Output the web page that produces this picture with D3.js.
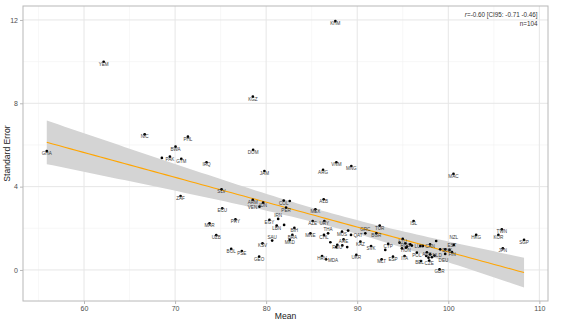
<!DOCTYPE html>
<html>
<head>
<meta charset="utf-8">
<script src="https://cdn.jsdelivr.net/npm/d3@7"></script>
<style>
  html, body { margin: 0; padding: 0; background: #ffffff; }
  svg { display: block; font-family: "Liberation Sans", Arial, sans-serif; }
</style>
</head>
<body>
<svg id="chart" width="570" height="327"></svg>
<script>
// Country codes, mean scores and standard errors
const codes = [
  "KHM","YEM","KGZ","NIC","PHL","BWA","LSO","PAK","GTM","GHA",
  "ZAF","IRQ","DOM","VNM","MNG","ARG","JAM","MAC","SLV","ECU",
  "MAR","PRY","UZB","BOL","PSE","KSV","GEO","SAU","MKD","ARM",
  "IDN","VEN","COL","TTO","PER","EGY","LBN","IRN","TUN","BIH",
  "BRA","ALB","MEX","AZE","URY","TUR","MNE","CHL","THA","MUS",
  "MYS","QAT","KAZ","ARE","OMN","ROU","LKA","JOR","UKR","HRV",
  "MDA","SVK","GRC","BGR","MLT","CYP","ISL","ESP","ITA","LTU",
  "RUS","HUN","LUX","POL","LVA","SVN","CAN","USA","CZE","PRT",
  "GBR","AUS","NLD","BEL","DEU","DNK","FIN","EST","NZL","HKG",
  "KOR","TWN","JPN","SGP","IRL","FRA","SWE","AUT","NOR","ISR",
  "CHE","SRB","BLR","CRI"
];
const means = [
  87.60, 62.16, 78.54, 66.66, 71.41, 70.05, 68.55, 69.43, 70.68, 55.91,
  70.60, 73.45, 78.57, 87.71, 89.35, 86.25, 79.81, 100.57, 75.10, 75.18,
  73.78, 76.63, 74.52, 76.16, 77.33, 79.60, 79.23, 80.66, 82.59, 78.53,
  79.67, 79.27, 81.93, 82.59, 82.19, 80.36, 81.16, 81.32, 81.97, 83.10,
  82.88, 86.32, 85.41, 85.11, 86.39, 92.47, 84.86, 86.35, 86.80, 88.33,
  89.00, 89.32, 90.35, 88.50, 87.05, 87.81, 88.36, 88.90, 89.90, 86.14,
  86.58, 91.52, 90.89, 92.10, 92.68, 93.40, 96.19, 93.93, 95.20, 95.00,
  95.29, 95.35, 96.00, 96.55, 96.92, 97.21, 98.00, 98.67, 97.90, 97.00,
  99.04, 97.65, 98.01, 97.83, 98.48, 99.11, 99.66, 100.40, 100.60, 103.06,
  105.50, 105.88, 105.99, 108.32, 97.58, 98.20, 99.66, 100.13, 95.46, 94.91,
  94.65, 95.82, 93.08, 87.70
];
const ses = [
  11.95, 9.99, 8.32, 6.51, 6.40, 5.92, 5.38, 5.44, 5.33, 5.71,
  3.55, 5.17, 5.76, 5.17, 4.99, 4.80, 4.75, 4.61, 3.87, 2.96,
  2.24, 2.43, 1.67, 1.01, 0.91, 1.28, 0.64, 1.41, 1.44, 3.36,
  3.23, 3.04, 3.33, 3.31, 2.99, 2.40, 2.13, 2.45, 2.16, 2.02,
  1.68, 3.39, 2.91, 2.35, 2.35, 2.13, 1.76, 1.68, 1.76, 1.84,
  1.89, 1.68, 1.36, 1.47, 1.33, 1.20, 1.18, 1.10, 0.72, 0.67,
  0.51, 1.15, 1.76, 1.76, 0.51, 1.25, 2.35, 0.64, 0.67, 1.49,
  1.28, 1.07, 1.17, 0.83, 1.15, 1.15, 1.23, 1.39, 0.45, 0.43,
  0.03, 0.85, 0.75, 0.59, 0.69, 0.99, 0.77, 0.86, 1.20, 1.68,
  1.68, 1.95, 1.04, 1.44, 0.67, 0.61, 0.99, 0.96, 1.12, 1.04,
  1.31, 1.23, 0.96, 1.10
];
// Points whose labels are left off because they would crowd their neighbours
const hiddenLabels = [
  "LSO","TTO","TUN","MYS","OMN","LKA","JOR","LVA","SVN","USA","PRT",
  "IRL","FRA","SWE","AUT","NOR","ISR","CHE","SRB","BLR","CRI"
];
const xTicks = [60, 70, 80, 90, 100, 110];
const yTicks = [0, 4, 8, 12];
const xMinor = [55, 65, 75, 85, 95, 105];
const yMinor = [2, 6, 10];
const statLines = ["=-0.60 [CI95: -0.71 -0.46]", "n=104"];

const panel = { left: 23, right: 548, top: 6, bottom: 301 };

const svg = d3.select("#chart");
const x = d3.scaleLinear().domain([53.3, 110.95]).range([panel.left, panel.right]);
const y = d3.scaleLinear().domain([-1.49, 12.67]).range([panel.bottom, panel.top]);

const points = codes.map((c, i) => ({ code: c, mean: means[i], se: ses[i] }));

// Linear fit with 95% confidence band
const n = points.length;
const xbar = d3.mean(points, d => d.mean);
const ybar = d3.mean(points, d => d.se);
const sxx = d3.sum(points, d => (d.mean - xbar) ** 2);
const sxy = d3.sum(points, d => (d.mean - xbar) * (d.se - ybar));
const slope = sxy / sxx;
const intercept = ybar - slope * xbar;
const sse = d3.sum(points, d => (d.se - (intercept + slope * d.mean)) ** 2);
const sRes = Math.sqrt(sse / (n - 2));
const tCrit = 1.9835;
const [xLo, xHi] = d3.extent(points, d => d.mean);
const fit = d3.range(0, 81).map(k => {
  const xv = xLo + (xHi - xLo) * k / 80;
  const yv = intercept + slope * xv;
  const half = tCrit * sRes * Math.sqrt(1 / n + (xv - xbar) ** 2 / sxx);
  return { x: xv, y: yv, lo: yv - half, hi: yv + half };
});

// Grid
const grid = svg.append("g");
grid.selectAll(".vminor").data(xMinor).join("line")
  .attr("x1", d => x(d)).attr("x2", d => x(d))
  .attr("y1", panel.top).attr("y2", panel.bottom)
  .attr("stroke", "#f2f2f2").attr("stroke-width", 0.6);
grid.selectAll(".hminor").data(yMinor).join("line")
  .attr("y1", d => y(d)).attr("y2", d => y(d))
  .attr("x1", panel.left).attr("x2", panel.right)
  .attr("stroke", "#f2f2f2").attr("stroke-width", 0.6);
grid.selectAll(".vmajor").data(xTicks.filter(v => x(v) < panel.right)).join("line")
  .attr("x1", d => x(d)).attr("x2", d => x(d))
  .attr("y1", panel.top).attr("y2", panel.bottom)
  .attr("stroke", "#e6e6e6").attr("stroke-width", 1);
grid.selectAll(".hmajor").data(yTicks).join("line")
  .attr("y1", d => y(d)).attr("y2", d => y(d))
  .attr("x1", panel.left).attr("x2", panel.right)
  .attr("stroke", "#e6e6e6").attr("stroke-width", 1);

// Confidence band and fitted line
svg.append("path").datum(fit)
  .attr("fill", "#d4d4d4")
  .attr("d", d3.area().x(d => x(d.x)).y0(d => y(d.lo)).y1(d => y(d.hi)));
svg.append("path").datum(fit)
  .attr("fill", "none").attr("stroke", "#ffa500").attr("stroke-width", 1.1)
  .attr("d", d3.line().x(d => x(d.x)).y(d => y(d.y)));

// Points
svg.append("g").selectAll("circle").data(points).join("circle")
  .attr("cx", d => x(d.mean)).attr("cy", d => y(d.se))
  .attr("r", 1.35).attr("fill", "#000000");

// Labels: placed greedily, stepping away from already placed labels when they collide
const labelled = points.filter(d => !hiddenLabels.includes(d.code));
const labels = svg.append("g").selectAll("text").data(labelled).join("text")
  .attr("text-anchor", "middle").attr("dominant-baseline", "central")
  .attr("font-size", 4.6).attr("fill", "#3a3a3a")
  .text(d => d.code);
const offsets = [[0, 2.6], [0, -3.4], [7, 1], [-7, 1], [0, 6.2], [0, -7], [9, 4.5], [-9, 4.5], [9, -2.5], [-9, -2.5], [0, 9.8]];
const placed = [];
const overlap = (a, b) => Math.max(0, Math.min(a.x2, b.x2) - Math.max(a.x1, b.x1)) *
                          Math.max(0, Math.min(a.y2, b.y2) - Math.max(a.y1, b.y1));
labels.each(function (d) {
  const w = this.getComputedTextLength() + 0.6;
  const h = 4.2;
  const cx = x(d.mean), cy = y(d.se);
  let best = null;
  for (const [dx, dy] of offsets) {
    const box = { x1: cx + dx - w / 2, x2: cx + dx + w / 2, y1: cy + dy - h / 2, y2: cy + dy + h / 2 };
    const cost = d3.sum(placed, p => overlap(box, p));
    if (!best || cost < best.cost) best = { box, dx, dy, cost };
    if (cost === 0) break;
  }
  placed.push(best.box);
  d3.select(this).attr("x", cx + best.dx).attr("y", cy + best.dy);
});

// Panel border
svg.append("rect")
  .attr("x", panel.left).attr("y", panel.top)
  .attr("width", panel.right - panel.left).attr("height", panel.bottom - panel.top)
  .attr("fill", "none").attr("stroke", "#b8b8b8").attr("stroke-width", 1);

// Axes
const xAxis = svg.append("g").attr("transform", `translate(0,${panel.bottom})`)
  .call(d3.axisBottom(x).tickValues(xTicks).tickSize(3).tickPadding(2).tickFormat(d3.format("d")));
const yAxis = svg.append("g").attr("transform", `translate(${panel.left},0)`)
  .call(d3.axisLeft(y).tickValues(yTicks).tickSize(3).tickPadding(2).tickFormat(d3.format("d")));
[xAxis, yAxis].forEach(g => {
  g.select(".domain").remove();
  g.selectAll(".tick line").attr("stroke", "#b8b8b8");
  g.selectAll(".tick text").attr("fill", "#4d4d4d").attr("font-size", 7)
    .attr("font-family", "Liberation Sans, Arial, sans-serif");
});

// Axis titles
svg.append("text").attr("x", (panel.left + panel.right) / 2).attr("y", 319)
  .attr("text-anchor", "middle").attr("font-size", 8.6).attr("fill", "#222")
  .text("Mean");
svg.append("text")
  .attr("transform", `translate(9.5,${(panel.top + panel.bottom) / 2}) rotate(-90)`)
  .attr("text-anchor", "middle").attr("font-size", 8.6).attr("fill", "#222")
  .text("Standard Error");

// Correlation annotation
const stat = svg.append("text").attr("x", 537.5).attr("y", 17)
  .attr("text-anchor", "end").attr("font-size", 6.3).attr("fill", "#333");
stat.append("tspan").attr("font-style", "italic").text("r");
stat.append("tspan").text(statLines[0]);
svg.append("text").attr("x", 537.5).attr("y", 25.5)
  .attr("text-anchor", "end").attr("font-size", 6.3).attr("fill", "#333")
  .text(statLines[1]);
</script>
</body>
</html>
